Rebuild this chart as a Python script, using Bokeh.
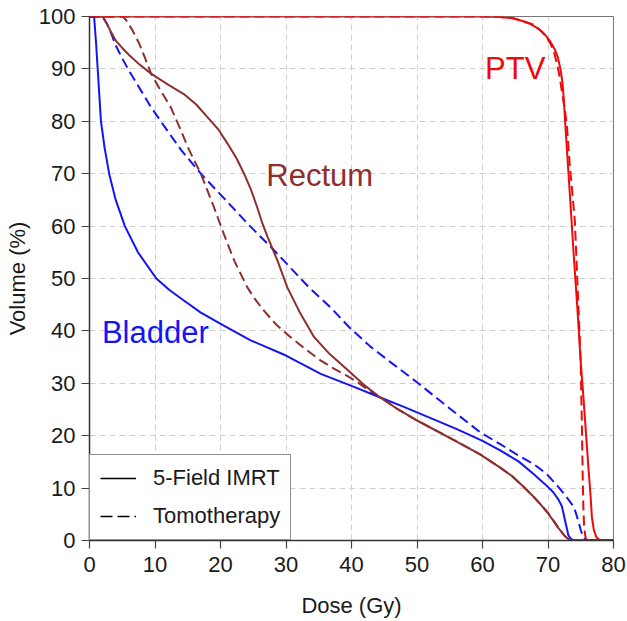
from bokeh.plotting import figure
from bokeh.models import Range1d, Label, Legend, LegendItem, FixedTicker
from bokeh.embed import file_html
from bokeh.resources import INLINE

# ---- data (dose in Gy, volume in %) ----
bladder_imrt_dose = [0, 0.7, 1.0, 1.25, 1.5, 1.75, 2.3, 3.0, 4.0, 5.4, 7.4, 10.2, 12.2, 14.4, 17, 20.5, 24.6, 30, 35.3, 40, 44.4, 48, 52, 56, 60, 62.7, 65.5, 67.8, 69.5, 70.8, 71.6, 72.1, 72.4, 72.6, 72.9, 73.1, 73.5, 74, 80]
bladder_imrt_vol = [100, 100, 95, 90, 85, 80, 75, 70, 65, 60, 55, 50, 47.8, 45.8, 43.5, 41, 38.2, 35.3, 31.8, 29.5, 27.3, 25.5, 23.4, 21.3, 19.0, 17.2, 15.1, 12.7, 10.8, 9.2, 7.8, 6.6, 5.0, 3.8, 2.2, 1.0, 0.3, 0, 0]

bladder_tomo_dose = [0, 2.0, 2.7, 3.3, 4.0, 5.0, 6.1, 7.8, 9.4, 12, 14, 17, 21.3, 24.5, 27.7, 30.5, 33.5, 36.8, 39.8, 42.9, 46, 50, 55, 59.7, 62.7, 65.5, 67.8, 69.8, 71.6, 72.7, 73.6, 74.2, 74.6, 75.0, 75.4, 75.8, 80]
bladder_tomo_vol = [100, 100, 98.5, 96.8, 94.5, 92, 89.5, 86, 82.7, 78, 74.5, 70, 64.3, 60, 56, 52.3, 48.3, 44.5, 40.5, 37, 34, 30.2, 25.2, 20.6, 18.4, 16.2, 14.6, 12.7, 10.2, 8.5, 7.0, 5.5, 3.8, 2.0, 0.6, 0, 0]

rectum_imrt_dose = [0, 2.0, 2.7, 3.3, 4.0, 5.0, 6.0, 7.5, 9.4, 12, 14.4, 16.3, 18, 19.7, 21.1, 22.5, 23.6, 24.7, 25.6, 26.4, 27.2, 28.7, 30.2, 32.2, 34.3, 36.5, 39.8, 42, 44.4, 47, 50, 55, 59.7, 62.7, 64.5, 66.3, 67.6, 68.8, 70, 70.8, 71.5, 72.1, 72.6, 73.1, 73.6, 80]
rectum_imrt_vol = [100, 100, 98.5, 97, 95.4, 94, 92.7, 91, 89.1, 87, 85.2, 83.2, 80.8, 78.4, 75.7, 72.8, 70, 66.8, 63.6, 60.5, 57.9, 53.4, 48.3, 43.3, 38.8, 35.8, 32.1, 29.6, 27.3, 25.1, 22.9, 19.6, 16.4, 13.9, 12.3, 10.2, 8.6, 7.0, 5.2, 3.8, 2.5, 1.6, 0.8, 0.3, 0, 0]

rectum_tomo_dose = [0, 5.1, 5.6, 6.5, 7.6, 8.5, 9.4, 10.9, 12.4, 13.7, 15, 16, 17, 18, 19, 20.5, 22.1, 24.1, 25.3, 26.6, 28.5, 30.7, 33, 35, 37.3, 39.5, 41.4, 43, 44.4, 47, 50, 55, 59.7, 62.7, 64.5, 66.3, 67.6, 68.8, 70, 70.8, 71.5, 72.1, 72.6, 73.1, 73.5, 80]
rectum_tomo_vol = [100, 100, 99.3, 97.5, 94.8, 92, 89.1, 85.8, 82.7, 79, 75.1, 72.5, 70, 66.8, 63.6, 58.5, 53.4, 48.3, 46, 43.9, 41.2, 38.8, 36.5, 34.6, 32.8, 31.3, 29.8, 28.3, 27.3, 25.1, 22.9, 19.6, 16.4, 13.9, 12.3, 10.2, 8.6, 7.0, 5.3, 3.9, 2.6, 1.6, 0.8, 0.3, 0, 0]

ptv_imrt_dose = [0, 60, 62.7, 64.5, 66, 67.3, 68.5, 69.5, 70.3, 71, 71.5, 71.9, 72.2, 72.4, 72.6, 73.0, 73.4, 73.9, 74.5, 75.0, 75.4, 75.8, 76.2, 76.5, 76.7, 77.0, 77.4, 77.9, 78.5, 80]
ptv_imrt_vol = [100, 100, 99.9, 99.7, 99.2, 98.6, 97.7, 96.6, 95.3, 93.8, 92.2, 90, 87.5, 84.5, 80.2, 72.5, 64.9, 55, 44, 34, 27.5, 20.5, 13.4, 8.5, 4.5, 2.0, 0.6, 0.1, 0, 0]

ptv_tomo_dose = [0, 60, 62.7, 64.5, 66, 67.8, 69, 69.8, 70.5, 71.0, 71.4, 71.8, 72.2, 72.6, 72.9, 73.3, 73.7, 74.1, 74.4, 74.7, 75.0, 75.1, 75.2, 75.3, 75.4, 75.5, 75.7, 75.9, 80]
ptv_tomo_vol = [100, 100, 99.9, 99.7, 99.2, 98.4, 97.2, 96, 94.5, 92.8, 90.8, 88.4, 85, 82, 79, 72, 66.5, 61, 52, 43, 34, 26.7, 20, 12, 6.4, 3.0, 0.8, 0, 0]

x_ticks = [0, 10, 20, 30, 40, 50, 60, 70, 80]
y_ticks = [0, 10, 20, 30, 40, 50, 60, 70, 80, 90, 100]
legend_labels = ["5-Field IMRT", "Tomotherapy"]

BLUE = "#1414F5"
BROWN = "#8E2E2E"
RED = "#EE0A0A"
FONT = "Liberation Sans"

p = figure(width=627, height=621, output_backend="svg", toolbar_location=None,
           x_range=Range1d(0, 80), y_range=Range1d(0, 100),
           min_border_left=89, min_border_right=14, min_border_top=16, min_border_bottom=81,
           background_fill_color="white", border_fill_color="white")

p.outline_line_color = "#777777"
p.outline_line_width = 1

for ax in (p.xaxis[0], p.yaxis[0]):
    ax.axis_line_color = "#333333"
    ax.axis_line_width = 1.5
    ax.major_tick_line_color = "#444444"
    ax.major_tick_line_width = 1.2
    ax.major_tick_out = 8
    ax.major_tick_in = 0
    ax.minor_tick_out = 0
    ax.minor_tick_in = 0
    ax.major_label_text_font = FONT
    ax.major_label_text_font_size = "22px"
    ax.major_label_text_color = "#1a1a1a"
    ax.axis_label_text_font = FONT
    ax.axis_label_text_font_size = "22px"
    ax.axis_label_text_font_style = "normal"
    ax.axis_label_text_color = "#1a1a1a"

p.xaxis.ticker = FixedTicker(ticks=x_ticks)
p.yaxis.ticker = FixedTicker(ticks=y_ticks)
p.xaxis.axis_label = "Dose (Gy)"
p.yaxis.axis_label = "Volume (%)"
p.xaxis.major_label_standoff = 8
p.yaxis.major_label_standoff = 6
p.xaxis.axis_label_standoff = 18
p.yaxis.axis_label_standoff = 6

for g in (p.xgrid[0], p.ygrid[0]):
    g.grid_line_color = "#cfcfcf"
    g.grid_line_dash = "6 4"
    g.grid_line_width = 1
p.xgrid.ticker = FixedTicker(ticks=x_ticks)
p.ygrid.ticker = FixedTicker(ticks=y_ticks)

W = 2
DASH = "10 5"
p.line(bladder_tomo_dose, bladder_tomo_vol, line_color=BLUE, line_width=W, line_dash=DASH)
p.line(rectum_tomo_dose, rectum_tomo_vol, line_color=BROWN, line_width=W, line_dash=DASH)
p.line(ptv_tomo_dose, ptv_tomo_vol, line_color=RED, line_width=W, line_dash=DASH)
p.line(bladder_imrt_dose, bladder_imrt_vol, line_color=BLUE, line_width=W)
p.line(rectum_imrt_dose, rectum_imrt_vol, line_color=BROWN, line_width=W)
p.line(ptv_imrt_dose, ptv_imrt_vol, line_color=RED, line_width=W)

# legend style proxies: drawn against a far-away extra range, so they are clipped out of the frame
p.extra_y_ranges = {"proxy": Range1d(1000, 1001)}
solid_proxy = p.line(ptv_imrt_dose, ptv_imrt_vol, y_range_name="proxy",
                     line_color="black", line_width=1.6)
dash_proxy = p.line(ptv_tomo_dose, ptv_tomo_vol, y_range_name="proxy",
                    line_color="black", line_width=1.6, line_dash="12 5")
legend = Legend(items=[LegendItem(label=legend_labels[0], renderers=[solid_proxy]),
                       LegendItem(label=legend_labels[1], renderers=[dash_proxy])],
                location="bottom_left", margin=0, padding=10, spacing=12,
                label_height=24, glyph_height=24, glyph_width=36, label_standoff=17,
                label_text_font=FONT, label_text_font_size="22px", label_text_color="#1a1a1a",
                border_line_color="#222222", border_line_width=1,
                background_fill_color="white", background_fill_alpha=1)
p.add_layout(legend)

p.add_layout(Label(x=1.9, y=39.7, text="Bladder", text_color=BLUE, text_font=FONT,
                   text_font_size="31px", text_baseline="middle", text_align="left"))
p.add_layout(Label(x=27.0, y=69.7, text="Rectum", text_color=BROWN, text_font=FONT,
                   text_font_size="31px", text_baseline="middle", text_align="left"))
p.add_layout(Label(x=60.4, y=90.0, text="PTV", text_color=RED, text_font=FONT,
                   text_font_size="31px", text_baseline="middle", text_align="left"))

open("out.html", "w").write(file_html(p, INLINE))
